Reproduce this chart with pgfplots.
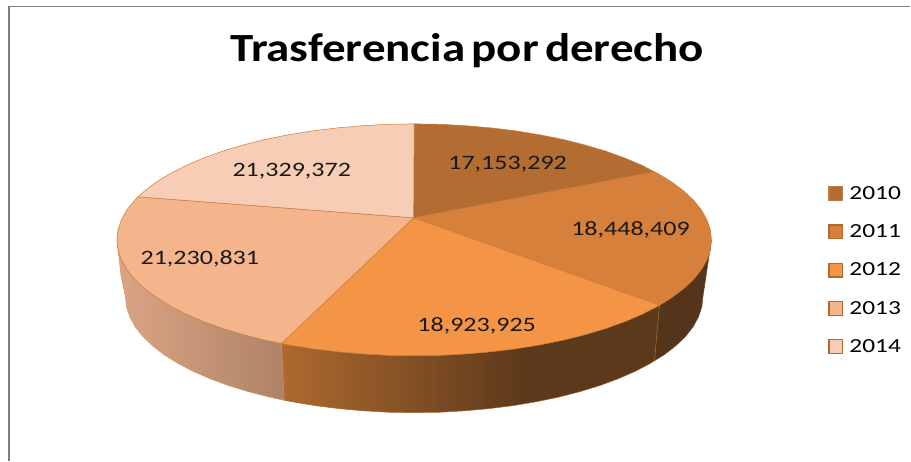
\documentclass[border=0pt]{standalone}
\usepackage{fontspec}
\usepackage{pgfplots}
\pgfplotsset{compat=1.18}
\newfontfamily\titlefont[FakeStretch=1.175,WordSpace=0.6]{Carlito}
\newfontfamily\labfont[FakeStretch=1.27]{Carlito}
\definecolor{cA}{HTML}{B36C31}
\definecolor{cB}{HTML}{D6803C}
\definecolor{cC}{HTML}{F49546}
\definecolor{cD}{HTML}{F4B48C}
\definecolor{cE}{HTML}{F7CDB6}
\definecolor{rim}{HTML}{C97B3A}
\definecolor{wallR}{HTML}{54341A}
\definecolor{wB1}{HTML}{AE6A2F}
\definecolor{wB2}{HTML}{5D391B}
\definecolor{wL1}{HTML}{DBA585}
\definecolor{wL2}{HTML}{AF8267}
\pgfdeclarehorizontalshading{wallB}{100bp}{color(0bp)=(wB1); color(25bp)=(wB1); color(57bp)=(wB2); color(100bp)=(wB2)}
\begin{document}
\begin{tikzpicture}
\begin{axis}[
  hide axis, clip=false, scale only axis,
  width=911pt, height=461pt,
  xmin=0, xmax=911, ymin=0, ymax=461, y dir=reverse,
  legend image code/.code={\draw[#1] (0pt,-6.9pt) rectangle (13.7pt,6.9pt); \path[draw=none,fill=none] (0pt,0pt) -- (18pt,0pt);},
  legend style={at={(axis cs:829,184)}, anchor=north west, draw=none, fill=none,
    font=\labfont\fontsize{20}{20}\selectfont, inner sep=0pt, outer sep=0pt,
    row sep=18.8pt, /tikz/every even column/.append style={column sep=0pt},
    nodes={inner sep=2.5pt, anchor=west}},
  legend cell align=left,
]
\addplot[draw=none, forget plot] coordinates {(0,0)(911,461)};
% frame
\addplot[color=gray, line width=1.5pt, forget plot] coordinates {(9,461)(9,6.5)(911,6.5)};

% right dark wall
\addplot[fill=wallR, draw=wallR!70!rim, line width=0.5pt, forget plot] coordinates {
(712,240)(710.9,250.1)(707.5,260.1)(701.9,270)(694.1,279.7)(684.1,289)(672.1,298)(660,305.5)
(655,361)(664.8,355)(676.4,346)(686.1,336.7)(693.7,327)(699.1,317.1)(702.4,307.1)(703.5,297)} -- cycle;
% front wall
\addplot[shade, shading=wallB, draw=rim!70!wallR, line width=0.5pt, forget plot] coordinates {
(660,305.5)(658.2,306.5)(642.4,314.6)(624.9,322)(605.7,328.9)(585.1,335)(563.3,340.5)(540.2,345.1)(516.3,349)(491.5,352)(466.2,354.2)(440.4,355.6)(414.5,356)
(388.6,355.6)(362.8,354.2)(337.5,352)(312.7,349)(288.8,345.1)(281.7,343.8)
(284.3,400.6)(292.4,402.1)(315.7,406)(339.7,409)(364.3,411.2)(389.3,412.6)(414.5,413)
(439.7,412.6)(464.7,411.2)(489.3,409)(513.3,406)(536.6,402.1)(559,397.5)(580.3,392)(600.3,385.9)(618.9,379)(635.9,371.6)(651.2,363.5)(655,361)} -- cycle;
% left wall
\addplot[left color=wL1, right color=wL2, draw=rim!80!white, line width=0.5pt, forget plot] coordinates {
(117,240)(118.1,250.1)(121.5,260.1)(127.1,270)(134.9,279.7)(144.9,289)(156.9,298)(170.8,306.5)(186.6,314.6)(204.1,322)(223.3,328.9)(243.9,335)(265.7,340.5)(281.7,343.8)
(284.3,400.6)(270,397.5)(248.7,392)(228.7,385.9)(210.1,379)(193.1,371.6)(177.8,363.5)(164.2,355)(152.6,346)(142.9,336.7)(135.3,327)(129.9,317.1)(126.6,307.1)(125.5,297)(121,275)} -- cycle;

% top faces
\addplot[fill=cA, draw=rim, line width=0.5pt, forget plot] coordinates {
(414,218)(414.5,124)(440.4,124.4)(466.2,125.8)(491.5,128)(516.3,131)(540.2,134.9)(563.3,139.5)(585.1,145)(605.7,151.1)(624.9,158)(642.4,165.4)(655,172)} -- cycle;
\addplot[fill=cB, draw=rim, line width=0.5pt, forget plot] coordinates {
(414,218)(655,172)(658.2,173.5)(672.1,182)(684.1,191)(694.1,200.3)(701.9,210)(707.5,219.9)(710.9,229.9)(712,240)(710.9,250.1)(707.5,260.1)(701.9,270)(694.1,279.7)(684.1,289)(672.1,298)(660,305.5)} -- cycle;
\addplot[fill=cC, draw=rim, line width=0.5pt, forget plot] coordinates {
(414,218)(660,305.5)(658.2,306.5)(642.4,314.6)(624.9,322)(605.7,328.9)(585.1,335)(563.3,340.5)(540.2,345.1)(516.3,349)(491.5,352)(466.2,354.2)(440.4,355.6)(414.5,356)(388.6,355.6)(362.8,354.2)(337.5,352)(312.7,349)(288.8,345.1)(281.7,343.8)} -- cycle;
\addplot[fill=cD, draw=rim, line width=0.5pt, forget plot] coordinates {
(414,218)(281.7,343.8)(265.7,340.5)(243.9,335)(223.3,328.9)(204.1,322)(186.6,314.6)(170.8,306.5)(156.9,298)(144.9,289)(134.9,279.7)(127.1,270)(121.5,260.1)(118.1,250.1)(117,240)(118.1,229.9)(121.5,219.9)(127.1,210)(134.9,200.3)(138.3,197)} -- cycle;
\addplot[fill=cE, draw=rim, line width=0.5pt, forget plot] coordinates {
(414,218)(138.3,197)(144.9,191)(156.9,182)(170.8,173.5)(186.6,165.4)(204.1,158)(223.3,151.1)(243.9,145)(265.7,139.5)(288.8,134.9)(312.7,131)(337.5,128)(362.8,125.8)(388.6,124.4)(414.5,124)} -- cycle;

% legend
\addlegendimage{fill=cA, draw=cA!90!white, line width=1.3pt}
\addlegendimage{fill=cB, draw=wB1, line width=1.3pt}
\addlegendimage{fill=cC, draw=wB1, line width=1.3pt}
\addlegendimage{fill=cD, draw=wB1, line width=1.3pt}
\addlegendimage{fill=cE, draw=wB1, line width=1.3pt}
\legend{2010,2011,2012,2013,2014}

% texts
\node[font=\titlefont\bfseries\fontsize{40}{40}\selectfont] at (axis cs:467.5,51) {Trasferencia por derecho};
\node[font=\labfont\fontsize{20.5}{20.5}\selectfont, text=black!90] at (axis cs:508,164) {17,153,292};
\node[font=\labfont\fontsize{20.5}{20.5}\selectfont, text=black!90] at (axis cs:631,230) {18,448,409};
\node[font=\labfont\fontsize{20.5}{20.5}\selectfont, text=black!90] at (axis cs:477,326) {18,923,925};
\node[font=\labfont\fontsize{20.5}{20.5}\selectfont, text=black!90] at (axis cs:200,259) {21,230,831};
\node[font=\labfont\fontsize{20.5}{20.5}\selectfont, text=black!90] at (axis cs:292,171) {21,329,372};
\end{axis}
\end{tikzpicture}
\end{document}
